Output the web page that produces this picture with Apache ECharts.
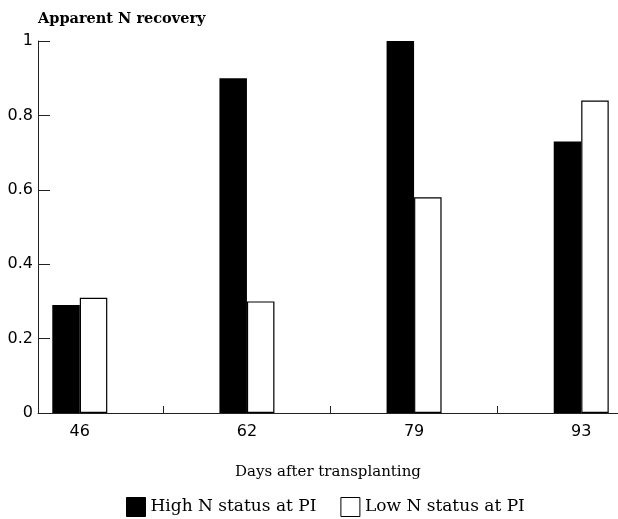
<!DOCTYPE html>
<html>
<head>
<meta charset="utf-8">
<style>
  html, body { margin: 0; padding: 0; background: #fff; }
  #chart { width: 618px; height: 519px; }
</style>
<script src="https://cdn.jsdelivr.net/npm/echarts@6/dist/echarts.min.js"></script>
</head>
<body>
<div id="chart"></div>
<script>
// Sampling dates (days after transplanting)
const days = ['46', '62', '79', '93'];
// Apparent N recovery by N status at panicle initiation
const highN = [0.29, 0.90, 1.00, 0.73];
const lowN = [0.31, 0.30, 0.58, 0.84];
// Y axis ticks
const yTicks = [0, 0.2, 0.4, 0.6, 0.8, 1];

const serif = '"DejaVu Serif", "Liberation Serif", serif';
const sans = '"DejaVu Sans", "Liberation Sans", sans-serif';

// Categories sit at integer positions; ticks mark the boundaries between them
const catPos = days.map((d, i) => i);
const boundaries = days.slice(1).map((d, i) => i + 0.5);

const chart = echarts.init(document.getElementById('chart'));
chart.setOption({
  animation: false,
  backgroundColor: '#fff',
  grid: { left: 38, right: 0, top: 41, bottom: 106 },
  xAxis: {
    type: 'value',
    min: -0.25,
    max: 3.22,
    name: 'Days after transplanting',
    nameLocation: 'middle',
    nameGap: 52,
    nameTextStyle: { fontFamily: serif, fontSize: 15, color: '#000' },
    axisLine: { show: true, onZero: false, lineStyle: { color: '#222', width: 1 } },
    axisTick: { show: true, inside: true, length: 7, customValues: boundaries,
                lineStyle: { color: '#222' } },
    axisLabel: { customValues: catPos, formatter: v => days[Math.round(v)],
                 fontFamily: sans, fontSize: 16, color: '#000', margin: 11 },
    splitLine: { show: false }
  },
  yAxis: {
    type: 'value',
    min: 0,
    max: 1,
    interval: 0.2,
    name: 'Apparent N recovery',
    nameLocation: 'end',
    nameGap: 22,
    nameTextStyle: { fontFamily: serif, fontSize: 14.5, fontWeight: 'bold', color: '#000',
                     align: 'left', verticalAlign: 'middle' },
    axisLine: { show: true, onZero: false, lineStyle: { color: '#222', width: 1 } },
    axisTick: { show: true, inside: true, length: 12, lineStyle: { color: '#222' } },
    axisLabel: { fontFamily: sans, fontSize: 16, color: '#000', margin: 5,
                 formatter: v => String(yTicks.find(t => Math.abs(t - v) < 1e-9) ?? v) },
    splitLine: { show: false }
  },
  legend: {
    top: 497,
    left: 126,
    padding: 0,
    itemWidth: 19,
    itemHeight: 19,
    itemGap: 24,
    icon: 'rect',
    itemStyle: { borderWidth: 1 },
    textStyle: { fontFamily: serif, fontSize: 17, color: '#000' },
    data: ['High N status at PI', 'Low N status at PI']
  },
  series: [
    {
      name: 'High N status at PI',
      type: 'bar',
      barWidth: 27.5,
      barGap: '0%',
      itemStyle: { color: '#000', borderColor: '#000', borderWidth: 0 },
      data: highN.map((v, i) => [catPos[i], v])
    },
    {
      name: 'Low N status at PI',
      type: 'bar',
      barWidth: 27.5,
      barGap: '0%',
      itemStyle: { color: '#fff', borderColor: '#000', borderWidth: 1.2 },
      data: lowN.map((v, i) => [catPos[i], v])
    }
  ]
});
</script>
</body>
</html>
